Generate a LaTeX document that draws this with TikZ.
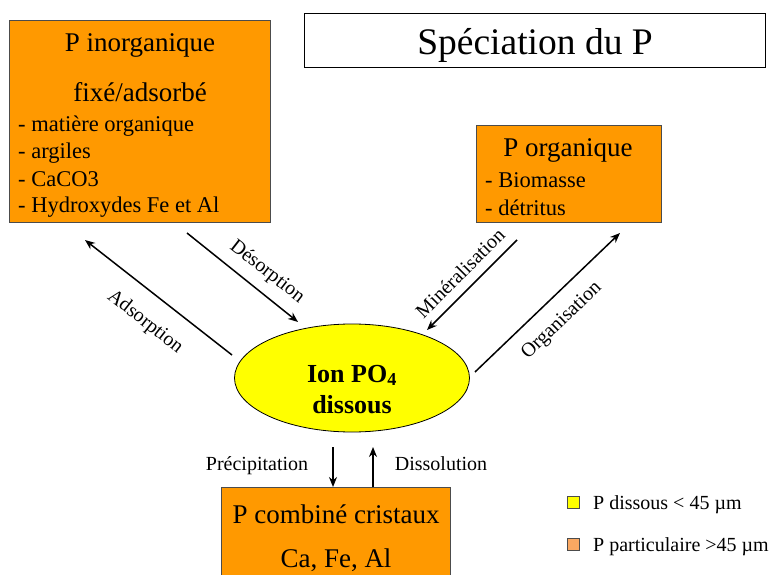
\documentclass[tikz,border=0pt]{standalone}
\usepackage{fontspec}
\setmainfont{Liberation Serif}
\usetikzlibrary{arrows.meta,shapes.geometric}

\definecolor{porange}{RGB}{255,153,0}
\definecolor{plegend}{RGB}{250,168,98}
\definecolor{pyellow}{RGB}{255,255,0}

\begin{document}
\begin{tikzpicture}[x=1pt,y=-1pt,
    pbox/.style={draw=black!70,fill=porange,line width=0.8pt,inner sep=0pt,anchor=north west},
    big/.style={font=\fontsize{27}{30}\selectfont,inner sep=0pt},
    item/.style={font=\fontsize{22.5}{26}\selectfont,inner sep=0pt,anchor=base west},
    lbl/.style={font=\fontsize{20}{22}\selectfont,inner sep=0pt},
    flux/.style={line width=1.5pt,-{Stealth[length=10pt,width=8pt]}}]
   \useasboundingbox (0,0) rectangle (777,575);
   % titre
   \node[draw,line width=0.8pt,inner sep=0pt,minimum width=461pt,minimum height=54pt,anchor=north west] (titre) at (304,13) {};
   \node[font=\fontsize{37.5}{40}\selectfont,inner sep=0pt,anchor=base] (titretxt) at (535,55) {Spéciation du P};
   % P inorganique
   \node[pbox,minimum width=261pt,minimum height=202pt] (inorg) at (9,20) {};
   \node[big,anchor=base] (inorgA) at (140,52) {P inorganique};
   \node[big,anchor=base] (inorgB) at (140,102) {fixé/adsorbé};
   \node[item] (inorgC) at (18,132) {- matière organique};
   \node[item] (inorgD) at (18,159) {- argiles};
   \node[item] (inorgE) at (18,186) {- CaCO3};
   \node[item] (inorgF) at (18,213) {- Hydroxydes Fe et Al};
   % P organique
   \node[pbox,minimum width=185pt,minimum height=97pt] (org) at (476,125) {};
   \node[big,anchor=base] (orgA) at (568,157) {P organique};
   \node[item] (orgB) at (485,188) {- Biomasse};
   \node[item] (orgC) at (485,215) {- détritus};
   % ion dissous
   \node[draw,fill=pyellow,line width=0.8pt,ellipse,minimum width=235pt,minimum height=108pt] (ion) at (352,378) {};
   \node[font=\fontsize{26}{28}\selectfont\bfseries,inner sep=0pt,anchor=base] (ionA) at (352,382) {Ion PO\textsubscript{4}};
   \node[font=\fontsize{26}{28}\selectfont\bfseries,inner sep=0pt,anchor=base] (ionB) at (352,413) {dissous};
   % P combine
   \node[pbox,minimum width=229pt,minimum height=100pt] (comb) at (221,487) {};
   \node[big,anchor=base] (combA) at (336,523) {P combiné cristaux};
   \node[big,anchor=base] (combB) at (336,567) {Ca, Fe, Al};
   % fleches
   \coordinate (adsA) at (232,355);
   \coordinate (adsB) at (85,240);
   \coordinate (desA) at (187,233);
   \coordinate (desB) at (298,322);
   \coordinate (minA) at (517,240);
   \coordinate (minB) at (427,330);
   \coordinate (orgnA) at (475,372);
   \coordinate (orgnB) at (620,233);
   \coordinate (preA) at (333,447);
   \coordinate (dissA) at (373,447);
   \draw[flux] (adsA) -- (adsB);
   \draw[flux] (desA) -- (desB);
   \draw[flux] (minA) -- (minB);
   \draw[flux] (orgnA) -- (orgnB);
   \draw[flux] (preA) -- (comb.north -| preA);
   \draw[flux] (comb.north -| dissA) -- (dissA);
   \node[lbl,rotate=-38] (ads) at (145,322) {Adsorption};
   \node[lbl,rotate=-38] (des) at (267,272) {Désorption};
   \node[lbl,rotate=45] (mine) at (460,273) {Minéralisation};
   \node[lbl,rotate=44] (orgn) at (562,321) {Organisation};
   \node[lbl,anchor=base] (prec) at (257,470) {Précipitation};
   \node[lbl,anchor=base] (diss) at (441,470) {Dissolution};
   % legende
   \node[draw=black!70,fill=pyellow,line width=0.8pt,minimum size=12pt,inner sep=0pt] (legA) at (573,502) {};
   \node[draw=black!70,fill=plegend,line width=0.8pt,minimum size=12pt,inner sep=0pt] (legB) at (573,544) {};
   \node[lbl,anchor=base west] (legAtxt) at (593,509) {P dissous < 45 µm};
   \node[lbl,anchor=base west] (legBtxt) at (593,551) {P particulaire >45 µm};
\end{tikzpicture}
\end{document}
